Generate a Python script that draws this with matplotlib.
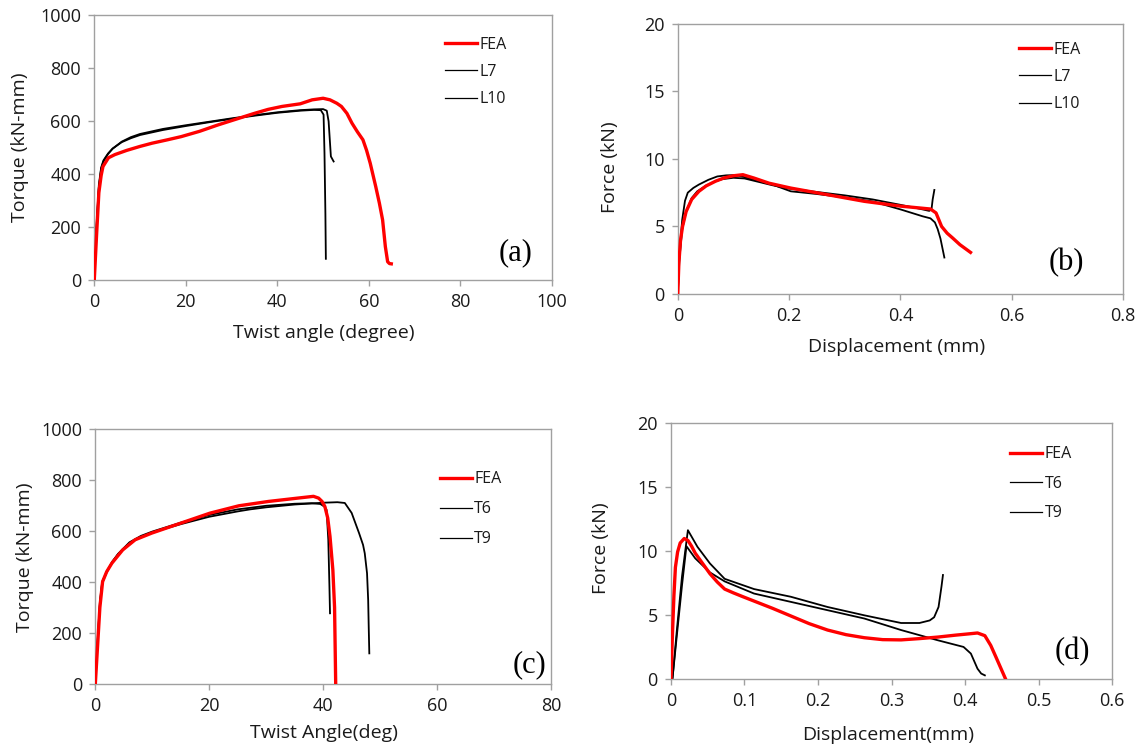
import matplotlib
matplotlib.use("Agg")
import matplotlib.pyplot as plt

plt.rcParams['font.family'] = ['Open Sans', 'DejaVu Sans']

# ---- (a) torque vs twist angle, L specimens ----
a_fea_x = [0, 0.5, 1.0, 1.5, 1.9, 3.1, 4.5, 7.1, 10, 12.6, 16, 19, 23, 27, 31, 35, 38, 41, 45,
           47.6, 50, 51.5, 53, 54, 55.2, 56.3, 57.5, 58.7, 59.5, 60.3, 61.5, 62.3, 63, 63.6, 64.1, 64.5, 64.9]
a_fea_y = [0, 170, 330, 395, 429, 462, 474, 490, 505, 517, 530, 542, 562, 586, 608, 630, 645, 656, 666,
           681, 687, 681, 668, 656, 630, 593, 560, 530, 490, 441, 353, 290, 227, 126, 69, 62, 61]
a_l7_x = [0, 0.5, 1.0, 1.5, 2, 3, 4, 6, 8, 10, 15, 20, 25, 30, 35, 40, 45, 48, 49.5, 50.1, 50.3, 50.5, 50.6]
a_l7_y = [0, 210, 360, 425, 452, 478, 497, 521, 536, 548, 567, 582, 596, 609, 621, 632, 640, 643, 642, 625, 480, 250, 80]
a_l10_x = [0, 0.5, 1.0, 1.5, 2, 3, 4, 6, 8, 10, 15, 20, 25, 30, 35, 40, 45, 48, 50, 50.8, 51.2, 51.5, 51.7, 52.3]
a_l10_y = [0, 200, 350, 420, 448, 476, 496, 523, 540, 552, 571, 585, 598, 611, 623, 634, 642, 645, 646, 640, 600, 520, 467, 448]

# ---- (b) force vs displacement, L specimens ----
b_fea_x = [0, 0.002, 0.005, 0.0086, 0.015, 0.025, 0.038, 0.051, 0.068, 0.084, 0.1, 0.117, 0.137, 0.164,
           0.203, 0.269, 0.335, 0.401, 0.454, 0.464, 0.474, 0.484, 0.494, 0.507, 0.526]
b_fea_y = [0, 2.3, 4.0, 5.0, 6.1, 7.0, 7.6, 8.0, 8.35, 8.6, 8.75, 8.83, 8.58, 8.2,
           7.84, 7.35, 6.86, 6.5, 6.29, 6.0, 5.0, 4.5, 4.14, 3.65, 3.08]
b_l7_x = [0, 0.003, 0.008, 0.013, 0.018, 0.028, 0.038, 0.055, 0.071, 0.087, 0.104, 0.12, 0.137, 0.17,
          0.203, 0.25, 0.3, 0.35, 0.401, 0.44, 0.454, 0.462, 0.467, 0.472, 0.476, 0.479]
b_l7_y = [0, 3.0, 5.5, 6.9, 7.5, 7.85, 8.1, 8.45, 8.7, 8.78, 8.8, 8.65, 8.45, 8.1,
          7.6, 7.4, 7.15, 6.85, 6.25, 5.75, 5.6, 5.3, 4.8, 4.1, 3.3, 2.7]
b_l10_x = [0, 0.003, 0.008, 0.015, 0.025, 0.035, 0.05, 0.065, 0.08, 0.1, 0.12, 0.14, 0.17,
           0.2, 0.25, 0.3, 0.35, 0.4, 0.43, 0.452, 0.456, 0.458, 0.461]
b_l10_y = [0, 2.6, 4.8, 6.1, 7.1, 7.6, 8.0, 8.3, 8.5, 8.6, 8.55, 8.35, 8.05,
           7.8, 7.55, 7.3, 7.0, 6.6, 6.35, 6.15, 6.3, 7.0, 7.7]

# ---- (c) torque vs twist angle, T specimens ----
c_fea_x = [0, 0.4, 0.8, 1.28, 2.0, 2.9, 4.8, 7.0, 9.9, 15, 20.1, 25.2, 30.4, 35.5, 38.3, 39.2,
           39.8, 40.3, 40.8, 41.2, 41.7, 42.0, 42.1, 42.2]
c_fea_y = [0, 150, 300, 401, 440, 473, 525, 565, 591, 630, 669, 698, 715, 728, 735, 728,
           715, 695, 650, 578, 447, 300, 150, 0]
c_t6_x = [0, 0.4, 0.8, 1.2, 2, 3, 4, 6, 8, 10, 15, 20, 25, 30, 35, 38, 39.5, 40.2,
          40.6, 40.9, 41.1, 41.2]
c_t6_y = [0, 170, 320, 400, 440, 480, 510, 555, 580, 597, 632, 662, 684, 698, 706, 708, 705, 695,
          682, 565, 382, 277]
c_t9_x = [0, 0.4, 0.8, 1.2, 2, 3, 4, 6, 8, 10, 15, 20, 25, 27.2, 30, 35, 40, 42.5, 43.8,
          45.0, 46.3, 47.0, 47.3, 47.7, 47.9, 48.0, 48.1]
c_t9_y = [0, 160, 310, 395, 438, 478, 508, 552, 576, 594, 626, 655, 676, 684, 692, 703, 710, 712, 709,
          670, 591, 545, 512, 434, 329, 220, 120]

# ---- (d) force vs displacement, T specimens ----
d_fea_x = [0, 0.002, 0.004, 0.006, 0.009, 0.0125, 0.018, 0.023, 0.028, 0.033, 0.043, 0.053, 0.063,
           0.073, 0.085, 0.098, 0.118, 0.138, 0.163, 0.188, 0.213, 0.238, 0.263, 0.288, 0.313,
           0.338, 0.363, 0.387, 0.405, 0.417, 0.427, 0.435, 0.442, 0.455]
d_fea_y = [0, 3.5, 6.5, 8.7, 9.9, 10.6, 10.95, 10.8, 10.35, 9.8, 9.0, 8.2, 7.55,
           7.0, 6.7, 6.4, 5.95, 5.5, 4.9, 4.3, 3.8, 3.44, 3.2, 3.05, 3.03,
           3.13, 3.25, 3.4, 3.5, 3.57, 3.36, 2.6, 1.7, 0]
d_t6_x = [0, 0.002, 0.008, 0.015, 0.023, 0.036, 0.053, 0.073, 0.113, 0.163, 0.213, 0.263, 0.313,
          0.338, 0.352, 0.358, 0.364, 0.368, 0.37]
d_t6_y = [0, 0, 3.8, 8.0, 11.6, 10.3, 9.0, 7.8, 7.0, 6.4, 5.6, 4.95, 4.35,
          4.35, 4.55, 4.8, 5.6, 7.2, 8.1]
d_t9_x = [0, 0.002, 0.008, 0.015, 0.021, 0.033, 0.053, 0.073, 0.113, 0.163, 0.213, 0.263, 0.313,
          0.363, 0.398, 0.408, 0.417, 0.422, 0.427]
d_t9_y = [0, 0, 3.4, 7.3, 10.35, 9.4, 8.3, 7.6, 6.65, 6.0, 5.35, 4.7, 3.8,
          3.0, 2.48, 1.96, 0.78, 0.4, 0.26]

RED = '#ff0000'
SPINE = '#a0a0a0'

fig = plt.figure(figsize=(11.47, 7.51), dpi=100)

panels = [
    dict(rect=[0.0822, 0.6272, 0.399, 0.3522], xlim=(0, 100), ylim=(0, 1000),
         xticks=[0, 20, 40, 60, 80, 100], yticks=[0, 200, 400, 600, 800, 1000],
         xlabel='Twist angle (degree)', ylabel='Torque (kN-mm)',
         series=[(a_fea_x, a_fea_y, 'FEA'), (a_l7_x, a_l7_y, 'L7'), (a_l10_x, a_l10_y, 'L10')],
         leg=(0.766, 0.919), spacing=0.7, tag='(a)', tagpos=(0.921, 0.102),
         xlab=(0.502, -0.20), ylab=(-0.162, 0.503)),
    dict(rect=[0.5909, 0.6085, 0.3882, 0.3599], xlim=(0, 0.8), ylim=(0, 20),
         xticks=[0, 0.2, 0.4, 0.6, 0.8], yticks=[0, 5, 10, 15, 20],
         xlabel='Displacement (mm)', ylabel='Force (kN)',
         series=[(b_fea_x, b_fea_y, 'FEA'), (b_l7_x, b_l7_y, 'L7'), (b_l10_x, b_l10_y, 'L10')],
         leg=(0.766, 0.933), spacing=0.7, tag='(b)', tagpos=(0.872, 0.118),
         xlab=(0.492, -0.196), ylab=(-0.152, 0.47)),
    dict(rect=[0.0831, 0.0892, 0.3973, 0.3400], xlim=(0, 80), ylim=(0, 1000),
         xticks=[0, 20, 40, 60, 80], yticks=[0, 200, 400, 600, 800, 1000],
         xlabel='Twist Angle(deg)', ylabel='Torque (kN-mm)',
         series=[(c_fea_x, c_fea_y, 'FEA'), (c_t6_x, c_t6_y, 'T6'), (c_t9_x, c_t9_y, 'T9')],
         leg=(0.756, 0.833), spacing=0.88, tag='(c)', tagpos=(0.952, 0.074),
         xlab=(0.502, -0.192), ylab=(-0.154, 0.497)),
    dict(rect=[0.585, 0.0963, 0.3845, 0.3409], xlim=(0, 0.6), ylim=(0, 20),
         xticks=[0, 0.1, 0.2, 0.3, 0.4, 0.5, 0.6], yticks=[0, 5, 10, 15, 20],
         xlabel='Displacement(mm)', ylabel='Force (kN)',
         series=[(d_fea_x, d_fea_y, 'FEA'), (d_t6_x, d_t6_y, 'T6'), (d_t9_x, d_t9_y, 'T9')],
         leg=(0.769, 0.908), spacing=0.85, tag='(d)', tagpos=(0.909, 0.104),
         xlab=(0.492, -0.22), ylab=(-0.159, 0.51)),
]

for p in panels:
    ax = fig.add_axes(p['rect'])
    for i, (xs, ys, name) in enumerate(p['series']):
        if i == 0:
            ax.plot(xs, ys, color=RED, lw=2.4, label=name, zorder=3, solid_joinstyle='round')
        else:
            ax.plot(xs, ys, color='black', lw=1.3, label=name, zorder=2)
    ax.set_xlim(*p['xlim'])
    ax.set_ylim(*p['ylim'])
    ax.set_xticks(p['xticks'])
    ax.set_yticks(p['yticks'])
    ax.set_xticklabels(['{:g}'.format(v) for v in p['xticks']])
    for s in ax.spines.values():
        s.set_color(SPINE)
        s.set_linewidth(1.0)
    ax.tick_params(direction='out', length=4, width=1.0, color=SPINE,
                   labelsize=13, labelcolor='#1a1a1a', pad=5.5)
    ax.set_xlabel(p['xlabel'], fontsize=14, color='#1a1a1a', va='center')
    ax.set_ylabel(p['ylabel'], fontsize=14, color='#1a1a1a', va='center')
    ax.xaxis.set_label_coords(*p['xlab'])
    ax.yaxis.set_label_coords(*p['ylab'])
    leg = ax.legend(loc='upper left', bbox_to_anchor=p['leg'], frameon=False,
                    fontsize=11.5, handlelength=2.0, handletextpad=0.15,
                    borderpad=0, borderaxespad=0, labelspacing=p['spacing'])
    for j, (t, h) in enumerate(zip(leg.get_texts(), leg.get_lines())):
        t.set_color('#1a1a1a')
        if j > 0:
            h.set_linewidth(0.9)
    ax.text(*p['tagpos'], p['tag'], transform=ax.transAxes, ha='center', va='center',
            fontsize=22, family='Liberation Serif', color='black')

fig.savefig('out.png', dpi=100)
